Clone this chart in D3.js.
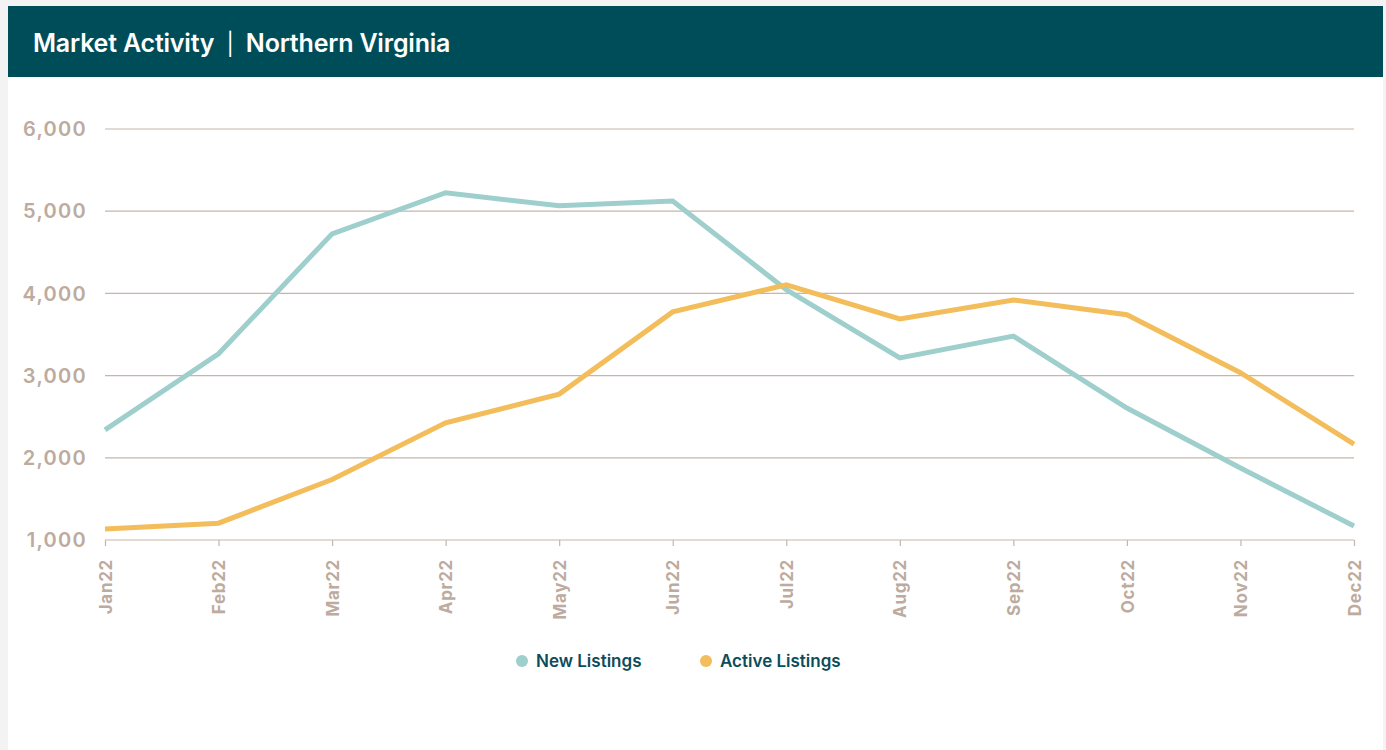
<!DOCTYPE html>
<html>
<head>
<meta charset="utf-8">
<script src="https://cdn.jsdelivr.net/npm/d3@7"></script>
<style>
  body { margin: 0; background: #f3f3f3; font-family: Inter, "Open Sans", sans-serif; }
  #card { position: absolute; left: 8px; top: 6px; width: 1375px; height: 744px; background: #fff; }
  #header { height: 71px; background: #004d5a; color: #fff; font-size: 25px; font-weight: 600;
            line-height: 75px; padding-left: 25px; letter-spacing: -0.2px; box-sizing: border-box; }
  #header .sep { font-weight: 400; font-size: 22px; }
  svg { position: absolute; left: 0; top: 0; }
</style>
</head>
<body>
<div id="card"><div id="header">Market Activity &nbsp;<span class="sep">|</span>&nbsp; Northern Virginia</div></div>
<svg id="chart" width="1386" height="750"></svg>
<script>
const months = ['Jan22', 'Feb22', 'Mar22', 'Apr22', 'May22', 'Jun22', 'Jul22', 'Aug22', 'Sep22', 'Oct22', 'Nov22', 'Dec22']
const newListings = [2340, 3265, 4725, 5225, 5065, 5125, 4045, 3215, 3480, 2605, 1875, 1170]
const activeListings = [1135, 1205, 1735, 2425, 2775, 3775, 4105, 3690, 3920, 3740, 3035, 2165]
const yTicks = [1000, 2000, 3000, 4000, 5000, 6000]

const colours = { newL: '#9ecfcd', active: '#f2bd5a', grid: '#c6b5a8', label: '#bcab9e', legend: '#0d4c5a' }

const svg = d3.select('#chart')
const x = d3.scalePoint().domain(months).range([105, 1354])
const y = d3.scaleLinear().domain([1000, 6000]).range([540, 129])

// gridlines
svg.append('g')
    .selectAll('line.grid')
    .data(yTicks)
    .join('line')
    .attr('class', 'grid')
    .attr('x1', 105).attr('x2', 1354)
    .attr('y1', d => y(d)).attr('y2', d => y(d))
    .attr('stroke', colours.grid)
    .attr('stroke-width', 1.2)

// y labels
svg.append('g')
    .selectAll('text')
    .data(yTicks)
    .join('text')
    .attr('x', 87)
    .attr('y', d => y(d))
    .attr('dy', '0.36em')
    .attr('text-anchor', 'end')
    .attr('fill', colours.label)
    .style('font-size', '20px')
    .style('font-weight', 600)
    .style('letter-spacing', '1.3px')
    .text(d => d3.format(',')(d))

// x axis
const xAxis = svg.append('g')
    .attr('transform', 'translate(0,540)')
    .call(d3.axisBottom(x).tickSize(6).tickSizeOuter(0))
xAxis.select('.domain').remove()
xAxis.selectAll('line').attr('stroke', colours.grid).attr('stroke-width', 1.2)
xAxis.selectAll('text')
    .attr('fill', colours.label)
    .style('font-size', '17px')
    .style('font-weight', 700)
    .style('letter-spacing', '0.7px')
    .style('font-family', 'Inter, sans-serif')
    .attr('transform', 'rotate(-90)')
    .attr('text-anchor', 'end')
    .attr('x', -19)
    .attr('y', 0)
    .attr('dy', '0.36em')

const line = d3.line().x((d, i) => x(months[i])).y(d => y(d))

svg.append('path')
    .datum(newListings)
    .attr('d', line)
    .attr('fill', 'none')
    .attr('stroke', colours.newL)
    .attr('stroke-width', 5)

svg.append('path')
    .datum(activeListings)
    .attr('d', line)
    .attr('fill', 'none')
    .attr('stroke', colours.active)
    .attr('stroke-width', 5)

// legend
const legend = [
    { name: 'New Listings', colour: colours.newL, x: 522 },
    { name: 'Active Listings', colour: colours.active, x: 706 }
]
const lg = svg.append('g').selectAll('g').data(legend).join('g')
    .attr('transform', d => `translate(${d.x},661)`)
lg.append('circle').attr('r', 6).attr('fill', d => d.colour)
lg.append('text')
    .attr('x', 14)
    .attr('dy', '0.36em')
    .attr('fill', colours.legend)
    .style('font-size', '17px')
    .style('font-weight', 600)
    .text(d => d.name)
</script>
</body>
</html>
